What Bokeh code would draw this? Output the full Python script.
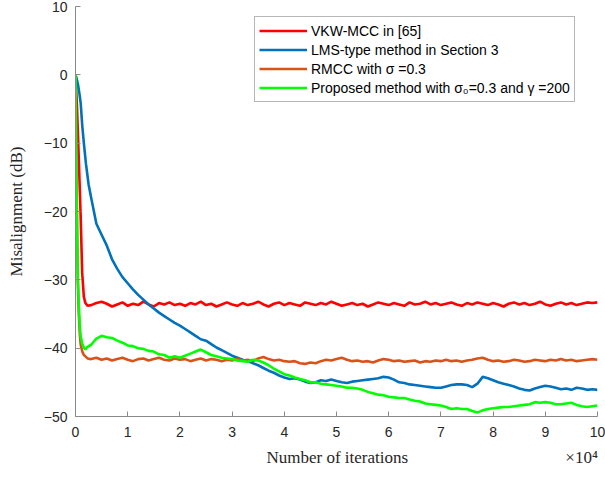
from bokeh.plotting import figure
from bokeh.models import Range1d, FixedTicker, Legend, LegendItem
from bokeh.embed import file_html
from bokeh.resources import INLINE

# iteration axis (in units of 1e4 iterations)
iters_tail = [0.3, 0.4, 0.5, 0.6, 0.7, 0.8, 0.9, 1.0, 1.1, 1.2, 1.3, 1.4, 1.5, 1.6, 1.7, 1.8, 1.9, 2.0,
              2.1, 2.2, 2.3, 2.4, 2.5, 2.6, 2.7, 2.8, 2.9, 3.0, 3.1, 3.2, 3.3, 3.4, 3.5, 3.6, 3.7, 3.8,
              3.9, 4.0, 4.1, 4.2, 4.3, 4.4, 4.5, 4.6, 4.7, 4.8, 4.9, 5.0, 5.1, 5.2, 5.3, 5.4, 5.5, 5.6,
              5.7, 5.8, 5.9, 6.0, 6.1, 6.2, 6.3, 6.4, 6.5, 6.6, 6.7, 6.8, 6.9, 7.0, 7.1, 7.2, 7.3, 7.4,
              7.5, 7.6, 7.7, 7.8, 7.9, 8.0, 8.1, 8.2, 8.3, 8.4, 8.5, 8.6, 8.7, 8.8, 8.9, 9.0, 9.1, 9.2,
              9.3, 9.4, 9.5, 9.6, 9.7, 9.8, 9.9, 10.0]

# VKW-MCC
red_head_x = [0, 0.03, 0.064, 0.1, 0.128, 0.16, 0.19, 0.23]
red_head_y = [0, -5.0, -12.5, -21.0, -29.0, -32.5, -33.4, -33.8]
red_tail_y = [-33.7, -33.4, -33.2, -33.5, -33.9, -33.6, -33.3, -33.8, -33.5, -33.7, -33.2, -33.6, -33.9,
              -33.4, -33.6, -33.3, -33.7, -33.5, -33.8, -33.4, -33.6, -33.2, -33.7, -33.5, -33.9, -33.6,
              -33.3, -33.6, -33.8, -33.4, -33.7, -33.5, -33.2, -33.6, -33.9, -33.5, -33.3, -33.7, -33.4,
              -33.6, -33.8, -33.3, -33.5, -33.7, -33.4, -33.6, -33.2, -33.5, -33.8, -33.6, -33.4, -33.7,
              -33.5, -33.9, -33.6, -33.3, -33.5, -33.7, -33.4, -33.6, -33.8, -33.3, -33.6, -33.5, -33.2,
              -33.6, -33.4, -33.7, -33.5, -33.3, -33.6, -33.8, -33.4, -33.6, -33.3, -33.5, -33.7, -33.4,
              -33.6, -33.9, -33.5, -33.3, -33.6, -33.4, -33.7, -33.5, -33.2, -33.6, -33.8, -33.5, -33.3,
              -33.6, -33.4, -33.7, -33.5, -33.3, -33.4, -33.3]

# LMS-type method
blue_head_x = [0, 0.02, 0.05, 0.08, 0.1, 0.13, 0.16, 0.2, 0.25]
blue_head_y = [0, -0.5, -1.5, -3.0, -4.2, -7.5, -10.0, -13.0, -16.0]
blue_tail_y = [-18.0, -21.8, -23.4, -25.0, -27.0, -28.4, -29.6, -30.5, -31.4, -32.2, -32.9, -33.6, -34.2,
               -34.8, -35.3, -35.8, -36.3, -36.7, -37.2, -37.7, -38.2, -38.7, -38.9, -39.4, -39.9, -40.3,
               -40.7, -41.1, -41.4, -41.7, -41.9, -42.2, -42.5, -42.9, -43.3, -43.6, -44.0, -44.3, -44.5,
               -44.4, -44.6, -44.9, -45.1, -45.0, -44.7, -44.8, -44.6, -44.8, -45.0, -45.1, -44.9, -44.8,
               -44.7, -44.6, -44.5, -44.4, -44.2, -44.3, -44.6, -45.0, -45.1, -45.3, -45.4, -45.5, -45.6,
               -45.7, -45.8, -45.8, -45.6, -45.4, -45.3, -45.3, -45.4, -45.7, -45.2, -44.2, -44.4, -44.7,
               -45.0, -45.2, -45.4, -45.6, -45.9, -46.1, -46.2, -45.9, -45.7, -45.5, -45.6, -45.8, -46.0,
               -45.9, -46.1, -45.8, -45.9, -46.1, -46.0, -46.1]

# RMCC, sigma = 0.3
orange_head_x = [0, 0.01, 0.02, 0.03, 0.045, 0.06, 0.083, 0.1, 0.13, 0.16, 0.19, 0.23]
orange_head_y = [0, -8.0, -16.0, -23.0, -30.5, -34.5, -38.0, -39.5, -40.5, -41.0, -41.2, -41.5]
orange_tail_y = [-41.6, -41.4, -41.7, -41.5, -41.8, -41.6, -41.4, -41.7, -41.9, -41.6, -41.5, -41.8, -41.6,
                 -41.4, -41.7, -41.8, -41.5, -41.7, -41.6, -41.9, -41.7, -41.5, -41.8, -41.6, -41.7, -41.9,
                 -41.7, -41.8, -41.6, -41.8, -41.7, -41.9, -41.5, -41.3, -41.6, -41.8, -41.7, -41.9, -42.0,
                 -41.9, -42.2, -42.3, -42.1, -42.2, -41.9, -41.7, -41.8, -41.6, -41.4, -41.7, -41.9, -41.8,
                 -42.0, -41.9, -42.1, -41.8, -41.6, -41.7, -41.9, -41.8, -42.0, -41.9, -41.8, -42.1, -41.9,
                 -42.0, -41.8, -41.9, -41.7, -41.9, -41.8, -42.0, -41.8, -41.7, -41.5, -41.4, -41.7, -41.9,
                 -41.8, -42.0, -41.9, -41.7, -41.8, -42.0, -41.9, -41.7, -41.8, -41.9, -41.7, -41.8, -41.6,
                 -41.8, -41.7, -41.9, -41.8, -41.7, -41.6, -41.7]

# proposed method, sigma0 = 0.3, gamma = 200
green_head_x = [0, 0.01, 0.02, 0.03, 0.045, 0.06, 0.083, 0.1, 0.128, 0.16, 0.19, 0.23]
green_head_y = [0, -8.0, -16.0, -22.0, -29.6, -33.0, -36.9, -38.3, -39.3, -39.9, -40.2, -39.8]
green_tail_y = [-39.5, -38.6, -38.2, -38.4, -38.5, -38.9, -39.2, -39.6, -39.7, -40.0, -40.1, -40.4, -40.5,
                -40.9, -41.0, -41.4, -41.2, -41.4, -41.1, -40.8, -40.5, -40.2, -40.6, -41.0, -41.2, -41.4,
                -41.5, -41.6, -41.8, -41.9, -42.0, -41.7, -41.8, -42.1, -42.5, -43.0, -43.4, -43.8, -44.0,
                -44.3, -44.5, -44.7, -45.0, -45.0, -45.2, -45.3, -45.4, -45.5, -45.6, -45.8, -45.8, -45.9,
                -46.1, -46.4, -46.6, -46.8, -46.9, -47.1, -47.2, -47.3, -47.3, -47.5, -47.7, -47.8, -48.1,
                -48.2, -48.3, -48.4, -48.6, -48.9, -48.8, -48.9, -48.9, -49.2, -49.4, -49.1, -48.9, -48.8,
                -48.7, -48.6, -48.6, -48.5, -48.4, -48.3, -48.2, -47.9, -48.0, -47.9, -48.0, -48.2, -48.2,
                -48.1, -48.0, -48.3, -48.5, -48.6, -48.5, -48.4]

x_ticks = [0, 1, 2, 3, 4, 5, 6, 7, 8, 9, 10]
y_ticks = [-50, -40, -30, -20, -10, 0, 10]

labels = ["VKW-MCC in [65]",
          "LMS-type method in Section 3",
          "RMCC with \u03c3 =0.3",
          "Proposed method with \u03c3\u2080=0.3 and \u03b3 =200"]
colors = ["#FF0000", "#0072BD", "#D95319", "#00FF00"]

# x-axis title with the x10^4 exponent pushed to the right end of the axis
NBSP = "\u00a0"
x_title = NBSP * 45 + "Number of iterations" + NBSP * 37 + "\u00d710\u2074"

p = figure(width=605, height=478, output_backend="svg", toolbar_location=None,
           x_range=Range1d(0, 10), y_range=Range1d(-50, 10),
           min_border_left=75, min_border_right=8, min_border_top=6, min_border_bottom=62)
p.outline_line_color = None
p.grid.visible = False
p.background_fill_color = "white"
p.border_fill_color = "white"

series = [
    (red_head_x, red_head_y, red_tail_y),
    (blue_head_x, blue_head_y, blue_tail_y),
    (orange_head_x, orange_head_y, orange_tail_y),
    (green_head_x, green_head_y, green_tail_y),
]
renderers = []
for (hx, hy, ty), c in zip(series, colors):
    r = p.line(hx + iters_tail, hy + ty, line_color=c, line_width=2.6)
    renderers.append(r)

axis_gray = "#8a8a8a"
for ax in (p.xaxis[0], p.yaxis[0]):
    ax.axis_line_color = axis_gray
    ax.major_tick_line_color = axis_gray
    ax.major_tick_in = 5
    ax.major_tick_out = 0
    ax.minor_tick_line_color = None
    ax.major_label_text_font = "Liberation Sans"
    ax.major_label_text_font_size = "14px"
    ax.major_label_text_color = "#262626"
    ax.axis_label_text_font = "Liberation Serif"
    ax.axis_label_text_font_style = "normal"
    ax.axis_label_text_font_size = "17px"
    ax.axis_label_text_color = "#262626"

p.xaxis.ticker = FixedTicker(ticks=x_ticks)
p.yaxis.ticker = FixedTicker(ticks=y_ticks)
p.xaxis.axis_label = x_title
p.yaxis.axis_label = "Misalignment (dB)"
p.xaxis.major_label_standoff = 10
p.yaxis.major_label_standoff = 8
p.xaxis.axis_label_standoff = 8
p.yaxis.axis_label_standoff = 15

legend = Legend(items=[LegendItem(label=l, renderers=[r]) for l, r in zip(labels, renderers)],
                location=(179, 314))
legend.glyph_width = 48
legend.glyph_height = 19
legend.label_height = 19
legend.spacing = 0
legend.padding = 4
legend.margin = 0
legend.label_standoff = 4
legend.label_text_font = "Liberation Sans"
legend.label_text_font_size = "14px"
legend.label_text_color = "#000000"
legend.border_line_color = "#6e6e6e"
legend.border_line_width = 1
legend.background_fill_alpha = 1.0
p.add_layout(legend)

open("out.html", "w").write(file_html(p, INLINE))
